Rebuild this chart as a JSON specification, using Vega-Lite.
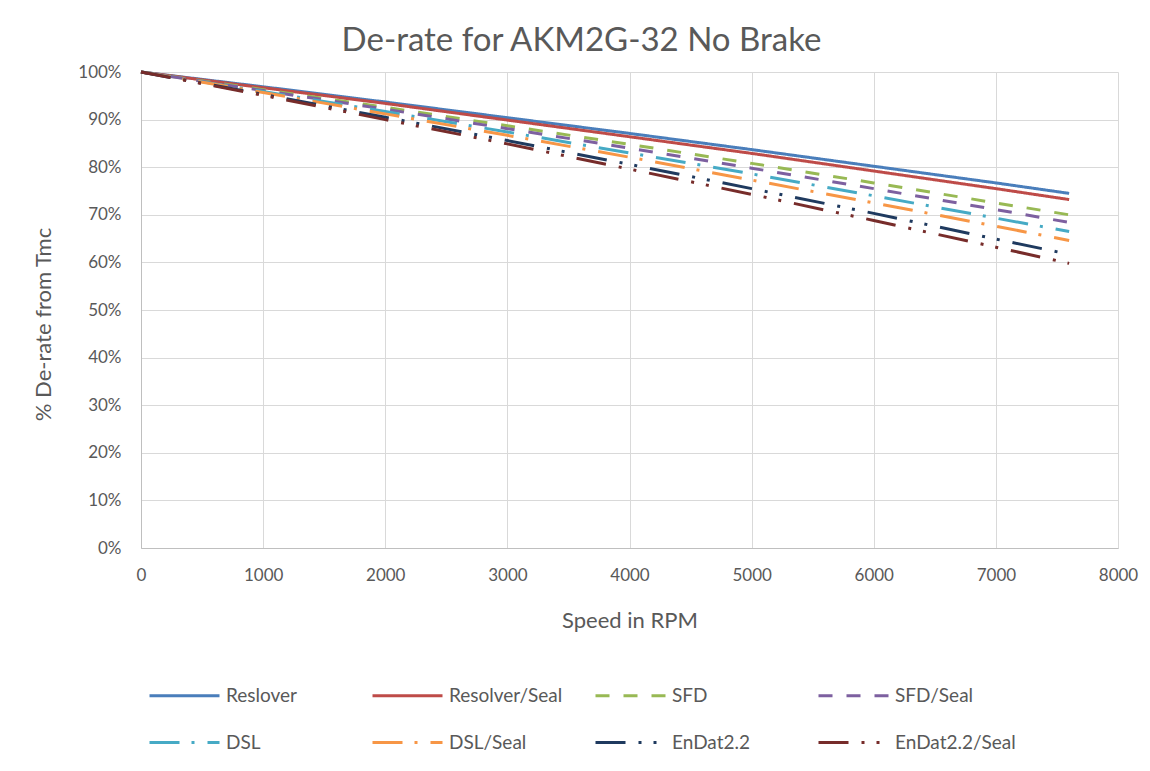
{
  "$schema": "https://vega.github.io/schema/vega-lite/v6.json",
  "width": 977,
  "height": 476,
  "autosize": "none",
  "padding": {"left": 141, "top": 72, "right": 32, "bottom": 223},
  "background": "white",
  "title": {
    "text": "De-rate for AKM2G-32 No Brake",
    "font": "Lato",
    "fontSize": 33,
    "fontWeight": "normal",
    "color": "#595959",
    "anchor": "middle",
    "dx": -48,
    "offset": 5
  },
  "config": {
    "view": {"stroke": null},
    "font": "Lato"
  },
  "data": {
    "values": [
      {"series": "Reslover", "rpm": 0, "v": 1.0},
      {"series": "Reslover", "rpm": 1000, "v": 0.969},
      {"series": "Reslover", "rpm": 2000, "v": 0.937},
      {"series": "Reslover", "rpm": 3000, "v": 0.904},
      {"series": "Reslover", "rpm": 4000, "v": 0.871},
      {"series": "Reslover", "rpm": 5000, "v": 0.837},
      {"series": "Reslover", "rpm": 6000, "v": 0.802},
      {"series": "Reslover", "rpm": 7000, "v": 0.767},
      {"series": "Reslover", "rpm": 7600, "v": 0.745},
      {"series": "Resolver/Seal", "rpm": 0, "v": 1.0},
      {"series": "Resolver/Seal", "rpm": 1000, "v": 0.967},
      {"series": "Resolver/Seal", "rpm": 2000, "v": 0.934},
      {"series": "Resolver/Seal", "rpm": 3000, "v": 0.899},
      {"series": "Resolver/Seal", "rpm": 4000, "v": 0.864},
      {"series": "Resolver/Seal", "rpm": 5000, "v": 0.829},
      {"series": "Resolver/Seal", "rpm": 6000, "v": 0.792},
      {"series": "Resolver/Seal", "rpm": 7000, "v": 0.755},
      {"series": "Resolver/Seal", "rpm": 7600, "v": 0.732},
      {"series": "SFD", "rpm": 0, "v": 1.0},
      {"series": "SFD", "rpm": 1000, "v": 0.963},
      {"series": "SFD", "rpm": 2000, "v": 0.926},
      {"series": "SFD", "rpm": 3000, "v": 0.887},
      {"series": "SFD", "rpm": 4000, "v": 0.848},
      {"series": "SFD", "rpm": 5000, "v": 0.808},
      {"series": "SFD", "rpm": 6000, "v": 0.767},
      {"series": "SFD", "rpm": 7000, "v": 0.725},
      {"series": "SFD", "rpm": 7600, "v": 0.700},
      {"series": "SFD/Seal", "rpm": 0, "v": 1.0},
      {"series": "SFD/Seal", "rpm": 1000, "v": 0.961},
      {"series": "SFD/Seal", "rpm": 2000, "v": 0.922},
      {"series": "SFD/Seal", "rpm": 3000, "v": 0.881},
      {"series": "SFD/Seal", "rpm": 4000, "v": 0.840},
      {"series": "SFD/Seal", "rpm": 5000, "v": 0.798},
      {"series": "SFD/Seal", "rpm": 6000, "v": 0.755},
      {"series": "SFD/Seal", "rpm": 7000, "v": 0.711},
      {"series": "SFD/Seal", "rpm": 7600, "v": 0.684},
      {"series": "DSL", "rpm": 0, "v": 1.0},
      {"series": "DSL", "rpm": 1000, "v": 0.959},
      {"series": "DSL", "rpm": 2000, "v": 0.917},
      {"series": "DSL", "rpm": 3000, "v": 0.874},
      {"series": "DSL", "rpm": 4000, "v": 0.830},
      {"series": "DSL", "rpm": 5000, "v": 0.786},
      {"series": "DSL", "rpm": 6000, "v": 0.740},
      {"series": "DSL", "rpm": 7000, "v": 0.693},
      {"series": "DSL", "rpm": 7600, "v": 0.665},
      {"series": "DSL/Seal", "rpm": 0, "v": 1.0},
      {"series": "DSL/Seal", "rpm": 1000, "v": 0.957},
      {"series": "DSL/Seal", "rpm": 2000, "v": 0.912},
      {"series": "DSL/Seal", "rpm": 3000, "v": 0.867},
      {"series": "DSL/Seal", "rpm": 4000, "v": 0.821},
      {"series": "DSL/Seal", "rpm": 5000, "v": 0.773},
      {"series": "DSL/Seal", "rpm": 6000, "v": 0.725},
      {"series": "DSL/Seal", "rpm": 7000, "v": 0.676},
      {"series": "DSL/Seal", "rpm": 7600, "v": 0.646},
      {"series": "EnDat2.2", "rpm": 0, "v": 1.0},
      {"series": "EnDat2.2", "rpm": 1000, "v": 0.953},
      {"series": "EnDat2.2", "rpm": 2000, "v": 0.905},
      {"series": "EnDat2.2", "rpm": 3000, "v": 0.856},
      {"series": "EnDat2.2", "rpm": 4000, "v": 0.806},
      {"series": "EnDat2.2", "rpm": 5000, "v": 0.755},
      {"series": "EnDat2.2", "rpm": 6000, "v": 0.703},
      {"series": "EnDat2.2", "rpm": 7000, "v": 0.649},
      {"series": "EnDat2.2", "rpm": 7600, "v": 0.617},
      {"series": "EnDat2.2/Seal", "rpm": 0, "v": 1.0},
      {"series": "EnDat2.2/Seal", "rpm": 1000, "v": 0.951},
      {"series": "EnDat2.2/Seal", "rpm": 2000, "v": 0.900},
      {"series": "EnDat2.2/Seal", "rpm": 3000, "v": 0.849},
      {"series": "EnDat2.2/Seal", "rpm": 4000, "v": 0.796},
      {"series": "EnDat2.2/Seal", "rpm": 5000, "v": 0.743},
      {"series": "EnDat2.2/Seal", "rpm": 6000, "v": 0.688},
      {"series": "EnDat2.2/Seal", "rpm": 7000, "v": 0.632},
      {"series": "EnDat2.2/Seal", "rpm": 7600, "v": 0.598}
    ]
  },
  "mark": {"type": "line", "strokeWidth": 3, "strokeCap": "butt"},
  "encoding": {
    "x": {
      "field": "rpm",
      "type": "quantitative",
      "scale": {"domain": [0, 8000], "nice": false},
      "axis": {
        "values": [0, 1000, 2000, 3000, 4000, 5000, 6000, 7000, 8000],
        "format": "d",
        "title": "Speed in RPM",
        "grid": true,
        "gridColor": "#d9d9d9",
        "domainColor": "#bfbfbf",
        "ticks": false,
        "labelFlush": false,
        "labelFont": "Lato",
        "labelFontSize": 17,
        "labelColor": "#595959",
        "labelPadding": 19,
        "titleFont": "Lato",
        "titleFontSize": 22,
        "titleFontWeight": "normal",
        "titleColor": "#595959",
        "titleBaseline": "top",
        "titleY": 62
      }
    },
    "y": {
      "field": "v",
      "type": "quantitative",
      "scale": {"domain": [0, 1], "nice": false},
      "axis": {
        "values": [0, 0.1, 0.2, 0.3, 0.4, 0.5, 0.6, 0.7, 0.8, 0.9, 1.0],
        "format": ".0%",
        "title": "% De-rate from Tmc",
        "grid": true,
        "gridColor": "#d9d9d9",
        "domainColor": "#bfbfbf",
        "ticks": false,
        "labelFlush": false,
        "labelFont": "Lato",
        "labelFontSize": 17,
        "labelColor": "#595959",
        "labelPadding": 20,
        "titleFont": "Lato",
        "titleFontSize": 22,
        "titleFontWeight": "normal",
        "titleColor": "#595959",
        "titleX": -86,
        "titleY": 252
      }
    },
    "color": {
      "field": "series",
      "type": "nominal",
      "sort": ["Reslover", "Resolver/Seal", "SFD", "SFD/Seal", "DSL", "DSL/Seal", "EnDat2.2", "EnDat2.2/Seal"],
      "scale": {
        "domain": ["Reslover", "Resolver/Seal", "SFD", "SFD/Seal", "DSL", "DSL/Seal", "EnDat2.2", "EnDat2.2/Seal"],
        "range": ["#4a7ebb", "#be4b48", "#98b954", "#7d60a0", "#46aac5", "#f79646", "#1f3a5f", "#772c2a"]
      },
      "legend": {
        "title": null,
        "orient": "none",
        "legendX": 7,
        "legendY": 587,
        "direction": "horizontal",
        "columns": 4,
        "gridAlign": "all",
        "columnPadding": 19,
        "rowPadding": -24,
        "symbolType": "stroke",
        "symbolSize": 4900,
        "symbolStrokeWidth": 3,
        "labelFont": "Lato",
        "labelFontSize": 19,
        "labelColor": "#595959",
        "labelOffset": 5
      }
    },
    "strokeDash": {
      "field": "series",
      "type": "nominal",
      "sort": ["Reslover", "Resolver/Seal", "SFD", "SFD/Seal", "DSL", "DSL/Seal", "EnDat2.2", "EnDat2.2/Seal"],
      "scale": {
        "domain": ["Reslover", "Resolver/Seal", "SFD", "SFD/Seal", "DSL", "DSL/Seal", "EnDat2.2", "EnDat2.2/Seal"],
        "range": [[1, 0], [1, 0], [14, 14], [14, 14], [30, 12, 3, 13], [30, 12, 3, 13], [30, 13, 3, 12, 3, 13], [30, 13, 3, 12, 3, 13]]
      }
    },
    "order": {"field": "series"}
  }
}
